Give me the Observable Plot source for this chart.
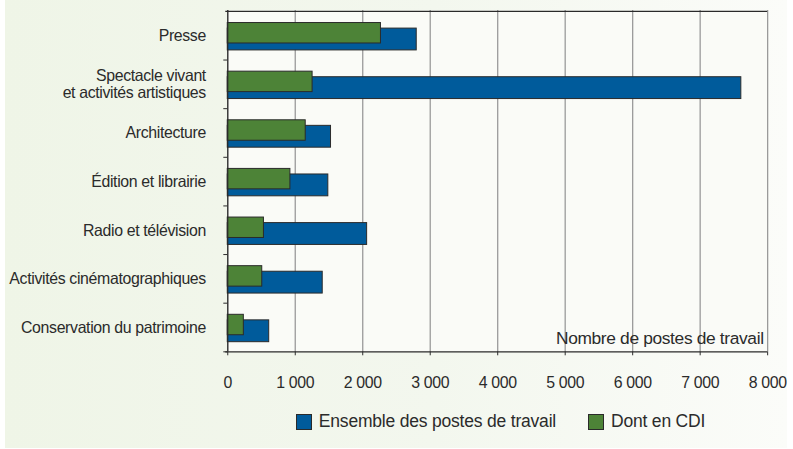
<!DOCTYPE html>
<html>
<head>
<meta charset="utf-8">
<script src="https://cdn.jsdelivr.net/npm/d3@7"></script>
<script src="https://cdn.jsdelivr.net/npm/@observablehq/plot@0.6"></script>
<style>
  html, body { margin: 0; padding: 0; background: #ffffff; }
  #wrap {
    position: absolute; left: 5px; top: 0; width: 782px; height: 448px;
    background: linear-gradient(to right, #eff5e7 0%, #f3f7ee 55%, #fbfcf9 100%);
  }
  #chart { position: absolute; left: -5px; top: 0; }
  #chart svg text { letter-spacing: -0.35px; }
  #legend {
    position: absolute; left: -5px; top: 411px; width: 793px;
    display: flex; justify-content: center; padding-left: 208px; box-sizing: border-box;
    font-family: 'Liberation Sans', Arial, sans-serif; font-size: 17.5px; letter-spacing: -0.2px; color: #2b2b2b;
  }
  .item { display: flex; align-items: center; margin: 0 16px; }
  .sw { width: 14px; height: 14px; border: 1px solid #2a2a2a; margin-right: 7px; }
</style>
</head>
<body>
<div id="wrap">
  <div id="chart"></div>
  <div id="legend"></div>
</div>
<script>
const categories = [
  "Presse",
  "Spectacle vivant\net activités artistiques",
  "Architecture",
  "Édition et librairie",
  "Radio et télévision",
  "Activités cinématographiques",
  "Conservation du patrimoine"
];
const ensemble = [2800, 7610, 1530, 1490, 2065, 1407, 614];
const cdi = [2270, 1257, 1155, 928, 536, 511, 238];
const xTicks = [0, 1000, 2000, 3000, 4000, 5000, 6000, 7000, 8000];
const seriesNames = ["Ensemble des postes de travail", "Dont en CDI"];
const seriesColors = ["#005b9b", "#4d8337"];
const axisTitle = "Nombre de postes de travail";

const rowsEns = categories.map((c, i) => ({cat: c, v: ensemble[i]}));
const rowsCdi = categories.map((c, i) => ({cat: c, v: cdi[i]}));
const fmt = d => d3.format(",")(d).replace(/,/g, " ");
const font = "'Liberation Sans', Arial, sans-serif";

const chart = Plot.plot({
  width: 793,
  height: 400,
  marginTop: 10,
  marginBottom: 46,
  marginLeft: 229,
  marginRight: 20,
  style: {fontFamily: font, fontSize: "16px", color: "#2b2b2b", background: "transparent"},
  x: {domain: [0, 8000]},
  y: {domain: categories, padding: 0},
  marks: [
    Plot.frame({fill: "#fafbf7", stroke: null}),
    Plot.gridX(xTicks, {stroke: "#9a9a9a", strokeOpacity: 1, strokeWidth: 1.3}),
    Plot.barX(rowsEns, {y: "cat", x: "v", fill: seriesColors[0], stroke: "#2a2a2a", strokeWidth: 1, insetTop: 17.3, insetBottom: 9.7}),
    Plot.barX(rowsCdi, {y: "cat", x: "v", fill: seriesColors[1], stroke: "#2a2a2a", strokeWidth: 1, insetTop: 11.7, insetBottom: 16.7}),
    Plot.ruleX([0], {stroke: "#2a2a2a", strokeWidth: 1.2}),
    Plot.ruleY([categories[0]], {stroke: "#2a2a2a", strokeWidth: 1.2, dy: -24.5, x1: 0, x2: 8000, insetLeft: -2}),
    Plot.axisX(xTicks, {anchor: "bottom", tickSize: 4, tickPadding: 21, tickFormat: fmt, stroke: "#2a2a2a", fontSize: 16, label: null}),
    Plot.ruleY([categories[categories.length - 1]], {stroke: "#2a2a2a", strokeWidth: 1.2, dy: 24.5, x1: 0, x2: 8000, insetLeft: -2}),
    Plot.axisY({anchor: "left", tickSize: 4, dy: 24.5, text: null, stroke: "#2a2a2a", label: null}),
    Plot.axisY({anchor: "left", tickSize: 0, tickPadding: 22, fontSize: 16, lineHeight: 1.07, label: null}),
    Plot.text([axisTitle], {frameAnchor: "bottom-right", dx: -4, dy: -8, fontSize: 17.5, fill: "#2b2b2b", textAnchor: "end"})
  ]
});
document.getElementById("chart").appendChild(chart);

const legend = document.getElementById("legend");
seriesNames.forEach((n, i) => {
  const it = document.createElement("div");
  it.className = "item";
  const sw = document.createElement("div");
  sw.className = "sw";
  sw.style.background = seriesColors[i];
  const t = document.createElement("span");
  t.textContent = n;
  it.appendChild(sw); it.appendChild(t);
  legend.appendChild(it);
});
</script>
</body>
</html>
